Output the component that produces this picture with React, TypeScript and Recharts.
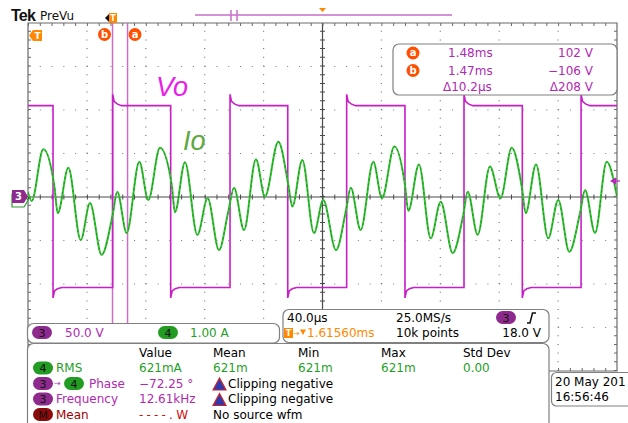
import React from 'react';
import { LineChart, Line, XAxis, YAxis, ReferenceLine, ReferenceArea } from 'recharts';

// time axis in µs from the left edge of the screen (40 µs/div, 10 div)
// ch3 Vo in volts (50 V/div), ch4 Io in amps (1 A/div), 8 div tall
const GRID_T = [40, 80, 120, 160, 240, 280, 320, 360];
const GRID_V = [-150, -100, -50, 50, 100, 150];

// Vo square wave edges
const VO_FALL = [17.0, 96.9, 176.4, 256.0, 335.7];
const VO_RISE = [57.5, 137.2, 216.4, 296.1, 375.6];
const VO_HIGH = 105;
const VO_LOW = -104;
const VO_SETTLE_DT = [0, 1, 3, 6];
const VO_RISE_PROFILE = [118, 110, 107, VO_HIGH];
const VO_FALL_PROFILE = [-116, -108, -105.5, VO_LOW];

// Io peaks / troughs
const IO_T = [0, 2.5, 10.4, 17.9, 20.2, 27.4, 35.8, 42.1, 50.0, 57.5, 60.6, 67.0, 75.6, 81.7, 89.6, 97.6, 99.8, 106.6, 115.0, 122.0, 129.7, 136.0, 139.9, 146.7, 154.8, 160.9, 170.0, 176.8, 179.5, 186.3, 194.2, 200.5, 209.2, 216.0, 219.2, 225.9, 234.5, 240.4, 248.8, 256.0, 258.3, 265.5, 273.5, 280.3, 288.4, 295.6, 298.6, 305.4, 313.7, 320.9, 328.5, 335.3, 338.0, 345.0, 353.3, 360.1, 367.6, 374.9, 378.3, 385.1, 393.0, 400.0];
const IO_A = [0.11, -0.09, 1.10, 0.25, -0.37, 0.67, -0.99, -0.14, -1.33, -0.41, 0.12, -0.83, 0.81, -0.07, 1.13, 0.28, -0.35, 0.80, -0.87, -0.03, -1.22, -0.34, 0.21, -0.76, 0.87, 0.01, 1.27, 0.28, -0.22, 0.85, -0.83, -0.07, -1.22, -0.30, 0.21, -0.76, 0.81, -0.03, 1.16, 0.28, -0.32, 0.75, -0.95, -0.11, -1.29, -0.41, 0.12, -0.87, 0.70, -0.03, 1.13, 0.24, -0.37, 0.75, -0.95, -0.07, -1.26, -0.37, 0.16, -0.83, 0.81, 0.01];

// cursors (µs)
const CURSOR_B = 57.4;
const CURSOR_A = 67.6;

const FONT = '"DejaVu Sans", Verdana, sans-serif';
const MAG = '#b02ab0';
const GRN = '#1f9f1f';
const ORG = '#ff8800';

const voData = (() => {
  const pts = [{ t: 0, v: VO_HIGH }];
  const edges = [
    ...VO_FALL.map((t) => ({ t, up: false })),
    ...VO_RISE.map((t) => ({ t, up: true })),
  ].sort((a, b) => a.t - b.t);
  for (const e of edges) {
    const prof = e.up ? VO_RISE_PROFILE : VO_FALL_PROFILE;
    pts.push({ t: e.t, v: e.up ? VO_LOW : VO_HIGH });
    VO_SETTLE_DT.forEach((dt, i) => pts.push({ t: e.t + dt, v: prof[i] }));
  }
  pts.push({ t: 400, v: VO_HIGH });
  return pts;
})();

const ioData = IO_T.map((t, i) => ({ t, a: IO_A[i] }));

function T({ x, y, c = '#000', s = 12, w = 400, anchor = 'start', ls, children }: any) {
  return (
    <text x={x} y={y + 0.365 * s} fill={c} fontSize={s} fontWeight={w} fontFamily={FONT} textAnchor={anchor} letterSpacing={ls}>
      {children}
    </text>
  );
}

function Pill({ x, y, w = 20, bg, label, fg = '#111' }: any) {
  return (
    <g>
      <rect x={x} y={y - 6.5} width={w} height={13} rx={6.5} fill={bg} />
      <T x={x + w / 2} y={y} c={fg} s={11} anchor="middle">{label}</T>
    </g>
  );
}

function Circ({ cx, cy, label }: any) {
  return (
    <g>
      <circle cx={cx} cy={cy} r={6.5} fill="#ff4f00" />
      <T x={cx} y={cy - 0.5} c="#fff" s={10} w={700} anchor="middle">{label}</T>
    </g>
  );
}

function Warn({ x, y }: any) {
  return <polygon points={`${x},${y + 6} ${x + 6.5},${y - 6} ${x + 13},${y + 6}`} fill="#2b3bb0" stroke="#d42020" strokeWidth={1.2} />;
}

function Box({ x, y, w, h, r = 6 }: any) {
  return <rect x={x} y={y} width={w} height={h} rx={r} fill="#fff" stroke="#808080" strokeWidth={1.2} />;
}

function Overlay() {
  return (
    <svg width={628} height={423} style={{ position: 'absolute', left: 0, top: 0, pointerEvents: 'none' }}>
      {/* header */}
      <text x={11} y={21} fontSize={16} fontWeight={700} fontFamily='"Liberation Sans", Arial, sans-serif' letterSpacing={-0.8} fill="#111">Tek</text>
      <T x={40} y={15.5} c="#111">PreVu</T>
      <line x1={195} y1={15} x2={452} y2={15} stroke="#c86ec8" strokeWidth={1.5} />
      <line x1={231} y1={10} x2={231} y2={21} stroke="#c86ec8" strokeWidth={1.5} />
      <line x1={237} y1={10} x2={237} y2={21} stroke="#c86ec8" strokeWidth={1.5} />
      <polygon points="319,8 326,8 322.5,12" fill={ORG} />
      <polygon points="105,18 109,14 109,22" fill="#111" />
      <rect x={109} y={13} width={8} height={10} fill={ORG} />
      <T x={113} y={18} c="#fff" s={8} w={700} anchor="middle">T</T>

      {/* markers in plot */}
      <polygon points="29,35.5 33,30 42,30 42,41 33,41" fill={ORG} />
      <T x={37.5} y={35.5} c="#fff" s={9} w={700} anchor="middle">T</T>
      <Circ cx={104.5} cy={34.5} label="b" />
      <Circ cx={135} cy={34.5} label="a" />
      <text x={156} y={96} fontSize={27} fontStyle="italic" fontFamily='"Liberation Sans", Arial, sans-serif' fill="#e81ee8">Vo</text>
      <text x={183} y={150} fontSize={27} fontStyle="italic" fontFamily='"Liberation Sans", Arial, sans-serif' fill="#5ea83e">Io</text>
      <polygon points="12,194 24,194 28,200.5 24,207 12,207" fill="#fff" stroke="#2a9d2a" strokeWidth={1.2} />
      <polygon points="12,190 24,190 28,196.5 24,203 12,203" fill="#8e2a8e" />
      <T x={18.5} y={196.5} c="#fff" s={10} w={700} anchor="middle">3</T>
      <polygon points="610,181 616,177.5 616,184.5" fill="#c020c0" />
      <line x1={615} y1={181} x2={620} y2={181} stroke="#c020c0" strokeWidth={1.2} />

      {/* cursor readout */}
      <Box x={393} y={44} w={224} h={51} />
      <Circ cx={413} cy={53} label="a" />
      <T x={448} y={53} c={MAG}>1.48ms</T>
      <T x={593} y={53} c={MAG} anchor="end">102 V</T>
      <Circ cx={413} cy={70.5} label="b" />
      <T x={448} y={70.5} c={MAG}>1.47ms</T>
      <T x={593} y={70.5} c={MAG} anchor="end">−106 V</T>
      <T x={443} y={87} c={MAG}>Δ10.2µs</T>
      <T x={593} y={87} c={MAG} anchor="end">Δ208 V</T>

      {/* channel scale box */}
      <Box x={27.5} y={323.5} w={252} h={19.5} />
      <Pill x={32} y={332.5} bg="#8e2a8e" label="3" />
      <T x={65} y={332.5} c={MAG}>50.0 V</T>
      <Pill x={158} y={332.5} bg="#229c22" label="4" />
      <T x={190} y={332.5} c={GRN}>1.00 A</T>

      {/* timebase box */}
      <Box x={283} y={309.5} w={266} h={33} />
      <T x={287} y={318}>40.0µs</T>
      <T x={396} y={318}>25.0MS/s</T>
      <Pill x={496} y={317.5} bg="#8e2a8e" label="3" />
      <path d="M527,323 L530,323 L532.5,313 L536,313" stroke="#111" strokeWidth={1.5} fill="none" />
      <rect x={284} y={328} width={9} height={10} fill={ORG} />
      <T x={288.5} y={333} c="#fff" s={8} w={700} anchor="middle">T</T>
      <T x={293} y={333} c={ORG} s={8}>→</T>
      <polygon points="300,329.5 306,329.5 303,335" fill={ORG} />
      <T x={307} y={333} c={ORG}>1.61560ms</T>
      <T x={396} y={333}>10k points</T>
      <T x={541} y={333} anchor="end">18.0 V</T>

      {/* measurements */}
      <Box x={27.5} y={343.5} w={521.5} h={100} />
      <T x={139} y={352.5}>Value</T>
      <T x={213} y={352.5}>Mean</T>
      <T x={298} y={352.5}>Min</T>
      <T x={381} y={352.5}>Max</T>
      <T x={463} y={352.5}>Std Dev</T>

      <Pill x={33} y={368} bg="#229c22" label="4" />
      <T x={56} y={368} c={GRN}>RMS</T>
      <T x={139} y={368} c={GRN}>621mA</T>
      <T x={213} y={368} c={GRN}>621m</T>
      <T x={298} y={368} c={GRN}>621m</T>
      <T x={381} y={368} c={GRN}>621m</T>
      <T x={463} y={368} c={GRN}>0.00</T>

      <Pill x={33} y={383.5} bg="#8e2a8e" label="3" />
      <T x={54} y={383.5} c={MAG} s={8}>→</T>
      <Pill x={64} y={383.5} bg="#229c22" label="4" />
      <T x={89} y={383.5} c={MAG}>Phase</T>
      <T x={139} y={383.5} c={MAG}>−72.25 °</T>
      <Warn x={213} y={384} />
      <T x={228} y={383.5}>Clipping negative</T>

      <Pill x={33} y={399} bg="#8e2a8e" label="3" />
      <T x={56} y={399} c={MAG}>Frequency</T>
      <T x={139} y={399} c={MAG}>12.61kHz</T>
      <Warn x={213} y={399.5} />
      <T x={228} y={399}>Clipping negative</T>

      <Pill x={33} y={414.5} bg="#8b0a0a" label="M" />
      <T x={56} y={414.5} c="#a00000">Mean</T>
      <T x={139} y={414.5} c="#d01010" ls={3.2}>----.W</T>
      <T x={213} y={414.5}>No source wfm</T>

      {/* date */}
      <Box x={551.5} y={372.5} w={90} h={33.5} r={5} />
      <T x={555} y={381.5}>20 May 201</T>
      <T x={555} y={397}>16:56:46</T>
    </svg>
  );
}

export default function App() {
  return (
    <div style={{ position: 'fixed', left: 0, top: 0, width: 628, height: 423, background: '#fff', overflow: 'hidden' }}>
      <LineChart width={628} height={423} margin={{ top: 23, right: 11, bottom: 52, left: 28 }}>
        <XAxis type="number" dataKey="t" domain={[0, 400]} hide allowDataOverflow />
        <YAxis yAxisId="v" type="number" domain={[-200, 200]} hide allowDataOverflow />
        <YAxis yAxisId="i" type="number" domain={[-4, 4]} hide allowDataOverflow />

        {/* dotted graticule */}
        {GRID_T.map((t) => (
          <ReferenceLine key={'gt' + t} yAxisId="v" x={t} stroke="#777" strokeWidth={1.2} strokeDasharray="1 7.7" />
        ))}
        {GRID_V.map((v) => (
          <ReferenceLine key={'gv' + v} yAxisId="v" y={v} stroke="#777" strokeWidth={1.2} strokeDasharray="1 10.78" />
        ))}

        {/* center cross with minor ticks */}
        <ReferenceLine yAxisId="v" x={200} stroke="#4a4a4a" strokeWidth={1.2} />
        <ReferenceLine yAxisId="v" y={0} stroke="#4a4a4a" strokeWidth={1.2} />
        <ReferenceLine yAxisId="v" x={200} stroke="#4a4a4a" strokeWidth={5} strokeDasharray="1 7.7" />
        <ReferenceLine yAxisId="v" y={0} stroke="#4a4a4a" strokeWidth={5} strokeDasharray="1 10.78" />

        {/* frame with inward ticks */}
        <ReferenceArea yAxisId="v" x1={0} x2={400} y1={-200} y2={200} fill="none" fillOpacity={0} stroke="#6a6a6a" strokeWidth={1.2} />
        <ReferenceLine yAxisId="v" y={198.3} stroke="#6a6a6a" strokeWidth={3} strokeDasharray="1 10.78" />
        <ReferenceLine yAxisId="v" y={-198.3} stroke="#6a6a6a" strokeWidth={3} strokeDasharray="1 10.78" />
        <ReferenceLine yAxisId="v" x={1.02} stroke="#6a6a6a" strokeWidth={3} strokeDasharray="1 7.7" />
        <ReferenceLine yAxisId="v" x={398.98} stroke="#6a6a6a" strokeWidth={3} strokeDasharray="1 7.7" />

        {/* cursors */}
        <ReferenceLine yAxisId="v" x={CURSOR_B} stroke="#c86ec8" strokeWidth={1.5} />
        <ReferenceLine yAxisId="v" x={CURSOR_A} stroke="#c86ec8" strokeWidth={1.5} />

        <Line
          data={voData}
          dataKey="v"
          yAxisId="v"
          type="linear"
          stroke="#c81ec8"
          strokeWidth={1.6}
          dot={false}
          isAnimationActive={false}
        />
        <Line
          data={ioData}
          dataKey="a"
          yAxisId="i"
          type="monotone"
          stroke="#33c033"
          strokeWidth={2}
          dot={false}
          isAnimationActive={false}
        />
        {/* darker noisy core of the Io trace */}
        <Line
          data={ioData}
          dataKey="a"
          yAxisId="i"
          type="monotone"
          stroke="#168a16"
          strokeWidth={0.9}
          strokeDasharray="2 3"
          dot={false}
          isAnimationActive={false}
        />
      </LineChart>
      <Overlay />
    </div>
  );
}
